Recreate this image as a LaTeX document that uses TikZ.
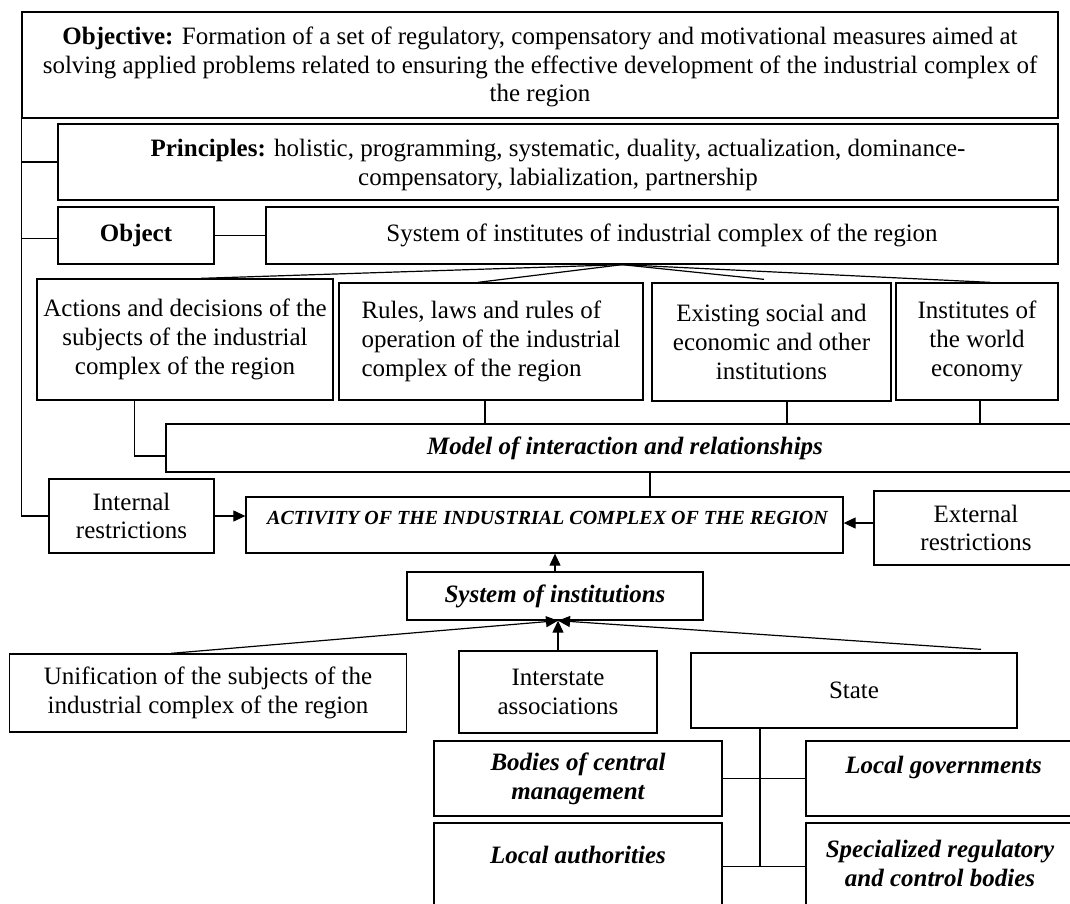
\documentclass[tikz,border=0pt]{standalone}
\usepackage{fontspec}
\setmainfont{Liberation Serif}
\usetikzlibrary{arrows.meta}
\begin{document}
\begin{tikzpicture}[x=1pt,y=-1pt,
  bx/.style={draw, line width=1.3pt, inner sep=0pt, align=center, font=\fontsize{25}{28.7}\selectfont},
  tx/.style={inner sep=0pt, align=center, font=\fontsize{25}{28.7}\selectfont},
  bi/.style={font=\fontsize{25}{28.7}\selectfont\bfseries\itshape},
  ln/.style={line width=1.2pt},
  arr/.style={line width=1.2pt, -{Triangle[length=12pt,width=11pt]}}]
\useasboundingbox (0,0) rectangle (1070,903);
\clip (0,0) rectangle (1070,903);
% boxes
\node[bx, minimum width=1036pt, minimum height=106pt] (obj) at (540,65) {};
\node[tx] (objT) at (540,67)
  {\textbf{Objective:} Formation of a set of regulatory, compensatory and motivational measures aimed at\\
   solving applied problems related to ensuring the effective development of the industrial complex of\\the region};
\node[bx, minimum width=1000pt, minimum height=76pt] (prin) at (558,162) {};
\node[tx] (prinT) at (558,165)
  {\textbf{Principles:} holistic, programming, systematic, duality, actualization, dominance-\\compensatory, labialization, partnership};
\node[bx, minimum width=156pt, minimum height=57pt] (objct) at (136,235.5) {\textbf{Object}};
\node[bx, minimum width=792pt, minimum height=57pt] (sysinst) at (662,235.5) {System of institutes of industrial complex of the region};
\node[bx, minimum width=296pt, minimum height=121pt] (act) at (185,339.5)
  {Actions and decisions of the\\subjects of the industrial\\complex of the region};
\node[bx, minimum width=304pt, minimum height=117pt, align=left] (rules) at (491,341.5)
  {Rules, laws and rules of\\operation of the industrial\\complex of the region};
\node[bx, minimum width=239pt, minimum height=118pt] (exist) at (771.5,342)
  {Existing social and\\economic and other\\institutions};
\node[bx, minimum width=162pt, minimum height=117pt] (instw) at (977,341.5)
  {Institutes of\\the world\\economy};
\node[bx, bi, minimum width=918pt, minimum height=48pt] (model) at (625,448) {Model of interaction and relationships};
\node[bx, minimum width=165pt, minimum height=74pt] (intr) at (131.5,516) {Internal\\restrictions};
\node[bx, minimum width=597pt, minimum height=56pt] (activ) at (544.5,525) {};
\node[tx, font=\fontsize{20}{22}\selectfont\bfseries\itshape] (activT) at (547.5,518) {ACTIVITY OF THE INDUSTRIAL COMPLEX OF THE REGION};
\node[bx, minimum width=204pt, minimum height=74pt] (extr) at (976,528) {External\\restrictions};
\node[bx, bi, minimum width=296pt, minimum height=48pt] (sysof) at (555,596) {System of institutions};
\node[bx, minimum width=397pt, minimum height=78pt] (unif) at (208,693)
  {Unification of the subjects of the\\industrial complex of the region};
\node[bx, minimum width=198pt, minimum height=82pt] (inters) at (558,692) {Interstate\\associations};
\node[bx, minimum width=326pt, minimum height=75pt] (state) at (854,690.5) {State};
\node[bx, bi, minimum width=288pt, minimum height=75pt] (bodies) at (578,778.5) {Bodies of central\\management};
\node[bx, minimum width=275pt, minimum height=75pt] (locgov) at (943.5,778.5) {};
\node[tx, bi] (locgovT) at (943.5,767) {Local governments};
\node[bx, minimum width=288pt, minimum height=87pt] (locauth) at (578,866.5) {};
\node[tx, bi] (locauthT) at (578,855) {Local authorities};
\node[bx, minimum width=275pt, minimum height=87pt] (spec) at (943.5,866.5) {};
\node[tx, bi] (specT) at (940,863.5) {Specialized regulatory\\and control bodies};
% connectors
\draw[ln] (obj.south west) |- (intr.west);
\draw[ln] (prin.west) -- (prin.west -| obj.west);
\draw[ln] ([yshift=-3pt]objct.west) -- ([yshift=-3pt]objct.west -| obj.west);
\draw[ln] (objct.east) -- (sysinst.west);
\coordinate (fan) at ([xshift=-40pt]sysinst.south);
\draw[ln] (fan) -- ([xshift=16pt]act.north);
\draw[ln] (fan) -- ([xshift=-13pt]rules.north);
\draw[ln] (fan) -- ([xshift=-7.5pt,yshift=3pt]exist.north);
\draw[ln] (fan) -- ([xshift=13pt]instw.north);
\draw[ln] ([xshift=-50.5pt]act.south) |- ([yshift=-8pt]model.west);
\draw[ln] ([xshift=-6pt]rules.south) -- ([xshift=-6pt]rules.south |- model.north);
\draw[ln] ([xshift=15.5pt]exist.south) -- ([xshift=15.5pt]exist.south |- model.north);
\draw[ln] ([xshift=3pt]instw.south) -- ([xshift=3pt]instw.south |- model.north);
\draw[ln] ([xshift=25pt]model.south) -- ([xshift=25pt]model.south |- activ.north);
\draw[arr] (intr.east) -- (intr.east -| activ.west);
\draw[arr] ([yshift=5pt]extr.west) -- ([yshift=5pt]extr.west -| activ.east);
\draw[arr] (sysof.north) -- (sysof.north |- activ.south);
\coordinate (tip) at ([xshift=3pt]sysof.south);
\draw[arr] ([xshift=-37pt]unif.north) -- (tip);
\draw[arr] (inters.north) -- (tip);
\draw[arr] ([xshift=127pt,yshift=3pt]state.north) -- (tip);
\draw[ln] ([xshift=-94pt]state.south) -- ([xshift=-94pt]state.south |- locauth.east);
\draw[ln] (bodies.east) -- (locgov.west);
\draw[ln] (locauth.east) -- (spec.west);
\end{tikzpicture}
\end{document}
